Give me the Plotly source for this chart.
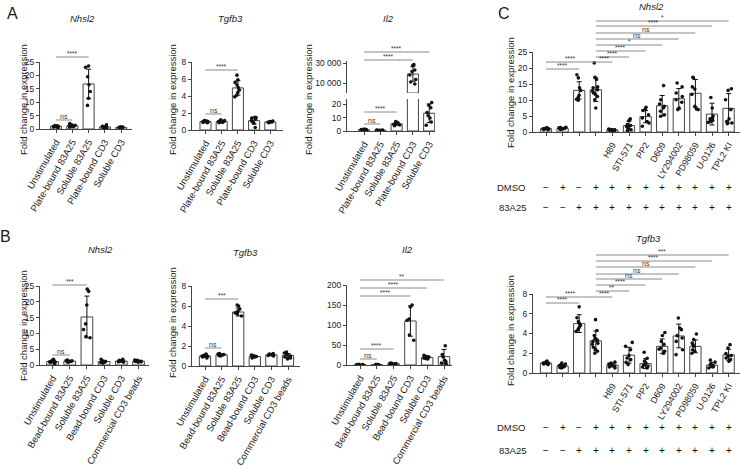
import plotly.graph_objects as go

W, H = 740, 466
FONT = "Arial, Liberation Sans, sans-serif"
AX = "#444444"
TXT = "#1a1a1a"
SIG = "#8a8a8a"

# ---------------- data ----------------
A_cats = ["Unstimulated", "Plate-bound 83A25", "Soluble 83A25", "Plate-bound CD3", "Soluble CD3"]
B_cats = ["Unstimulated", "Bead-bound 83A25", "Soluble 83A25", "Bead-bound CD3", "Soluble CD3",
          "Commercial CD3 beads"]
C_cats = ["", "", "", "", "H89", "STI-571", "PP2", "D609", "LY294002", "PD98059", "U-0126", "TPL2 KI"]
C_dmso = ["−", "+", "−", "+", "+", "+", "+", "+", "+", "+", "+", "+"]
C_83a25 = ["−", "−", "+", "+", "+", "+", "+", "+", "+", "+", "+", "+"]

A_nhsl2_mean = [1.0, 1.2, 16.8, 0.8, 0.6]
A_nhsl2_sd = [0.2, 0.4, 5.5, 0.35, 0.15]
A_nhsl2_pts = [[0.6, 0.8, 0.9, 1.0, 1.1, 1.2, 1.3, 0.9, 1.0],
               [0.7, 1.0, 1.2, 1.4, 1.6, 2.0, 1.1, 0.9, 1.3],
               [23.5, 23.0, 19.5, 16.5, 14.0, 11.5, 8.8],
               [1.6, 1.0, 0.8, 0.6, 0.5, 0.7, 0.9, 0.4],
               [0.5, 0.6, 0.7, 0.4, 0.8]]

A_tgfb3_mean = [1.0, 1.0, 4.95, 1.1, 0.95]
A_tgfb3_sd = [0.08, 0.1, 0.85, 0.4, 0.08]
A_tgfb3_pts = [[0.85, 0.9, 0.95, 1.0, 1.0, 1.05, 1.1, 0.95, 1.0],
               [0.85, 0.9, 1.0, 1.05, 1.1, 1.2, 0.95, 1.0],
               [6.45, 5.9, 5.6, 5.3, 5.0, 4.7, 4.4, 4.1, 3.9],
               [1.5, 1.45, 1.4, 1.3, 1.0, 0.8, 0.3, 1.1],
               [0.9, 0.95, 1.0, 0.85, 1.05]]

A_il2_mean = [1.0, 0.6, 5.4, 19000, 13.3]
A_il2_sd = [0.3, 0.15, 0.9, 7300, 7.0]
A_il2_pts = [[0.6, 0.8, 1.0, 1.1, 1.2, 0.9, 1.3, 1.0],
             [0.4, 0.5, 0.6, 0.7, 0.8, 0.5],
             [4.0, 4.5, 5.0, 5.5, 6.0, 7.0, 5.2, 4.8, 6.5],
             [28500, 27500, 23000, 21500, 18000, 13500, 11000, 9000],
             [21.4, 19.3, 17.4, 13.8, 11.4, 9.8, 6.7, 4.3]]

B_nhsl2_mean = [1.1, 1.2, 15.2, 1.1, 1.25, 1.2]
B_nhsl2_sd = [0.4, 0.25, 6.6, 0.35, 0.3, 0.25]
B_nhsl2_pts = [[0.5, 0.8, 1.0, 1.2, 1.5, 1.8, 0.9, 1.1],
               [0.9, 1.0, 1.2, 1.4, 1.6, 1.3, 1.1],
               [24.0, 23.3, 19.0, 13.0, 11.2, 9.0, 8.6],
               [0.6, 0.9, 1.1, 1.3, 1.8, 1.0, 0.8, 1.2],
               [1.0, 1.2, 1.5, 1.8, 1.1, 1.3, 0.9],
               [0.9, 1.1, 1.3, 1.5, 1.6, 1.2, 1.0]]

B_tgfb3_mean = [1.0, 1.12, 5.4, 0.95, 1.12, 1.05]
B_tgfb3_sd = [0.12, 0.08, 0.4, 0.1, 0.08, 0.2]
B_tgfb3_pts = [[0.8, 0.9, 1.0, 1.1, 1.2, 0.95, 1.05, 1.0],
               [1.0, 1.1, 1.15, 1.2, 1.25, 1.05, 1.1],
               [6.1, 6.0, 5.7, 5.5, 5.4, 5.3, 5.2, 5.0],
               [0.8, 0.9, 0.95, 1.0, 1.05, 1.1, 0.9],
               [1.0, 1.05, 1.1, 1.15, 1.2, 1.25, 1.1],
               [0.7, 0.8, 0.9, 1.0, 1.1, 1.2, 1.3, 1.4]]

B_il2_mean = [1.0, 1.0, 3.3, 110, 19, 21]
B_il2_sd = [0.4, 0.3, 1.0, 38, 3, 18]
B_il2_pts = [[0.5, 1.0, 1.5, 0.8, 1.2],
             [0.6, 0.9, 1.1, 1.3],
             [2.0, 3.0, 4.0, 5.0, 3.5, 2.5],
             [150, 145, 115, 112, 75, 62],
             [15, 17, 18, 19, 20, 21, 22, 24, 16],
             [48, 26, 20, 12, 9, 5, 3]]

C_nhsl2_mean = [1.0, 1.1, 13.0, 13.2, 0.65, 2.0, 4.8, 8.2, 10.4, 12.1, 5.6, 7.4]
C_nhsl2_sd = [0.2, 0.25, 2.7, 3.7, 0.15, 1.4, 1.9, 3.2, 3.2, 4.3, 3.4, 4.6]
C_nhsl2_pts = [[0.7, 0.9, 1.0, 1.1, 1.2, 1.3, 0.8, 1.0],
               [0.8, 1.0, 1.2, 1.4, 1.5, 1.1, 0.9, 1.3],
               [17.9, 16.9, 13.8, 13.0, 11.5, 10.8, 10.2, 9.9],
               [21.6, 17.1, 16.4, 14.1, 13.8, 13.2, 12.7, 12.2, 11.7, 11.1, 10.1, 7.5],
               [0.4, 0.5, 0.6, 0.7, 0.8, 0.9, 0.6, 0.7],
               [4.1, 3.6, 2.3, 2.0, 1.7, 1.2, 0.7, 0.5],
               [7.7, 7.0, 6.7, 5.4, 4.4, 3.3, 2.8, 1.8],
               [14.5, 10.1, 8.75, 8.0, 7.5, 6.5, 5.4, 4.9],
               [15.3, 14.1, 12.2, 11.1, 10.1, 9.3, 7.5, 7.0],
               [17.1, 16.9, 14.1, 13.4, 11.7, 8.0, 7.2, 7.0],
               [10.8, 7.5, 5.0, 4.4, 4.1, 3.6, 3.3, 3.0],
               [13.5, 13.0, 10.1, 7.0, 4.1, 3.3, 2.8, 2.6]]

C_tgfb3_mean = [1.0, 0.7, 5.0, 3.25, 0.8, 1.8, 0.95, 2.7, 3.75, 2.7, 0.8, 1.85]
C_tgfb3_sd = [0.1, 0.15, 0.9, 1.0, 0.2, 0.8, 0.5, 0.75, 1.2, 0.65, 0.25, 0.55]
C_tgfb3_pts = [[0.85, 0.9, 0.95, 1.0, 1.05, 1.1, 1.2, 1.0],
               [0.5, 0.55, 0.6, 0.7, 0.75, 0.8, 0.9, 0.65, 1.0],
               [6.7, 5.6, 5.2, 5.0, 4.8, 4.6, 4.4, 4.2],
               [5.4, 4.3, 3.8, 3.5, 3.4, 3.3, 3.2, 3.0, 2.9, 2.6, 2.4, 2.2, 2.0],
               [0.5, 0.6, 0.7, 0.8, 0.9, 1.0, 1.1, 0.85],
               [3.1, 2.7, 2.36, 1.76, 1.52, 1.35, 1.08, 0.85],
               [2.1, 1.5, 1.2, 1.0, 0.9, 0.8, 0.6, 0.5, 0.7],
               [4.1, 3.8, 3.2, 2.9, 2.5, 2.2, 2.0, 2.4],
               [5.57, 4.56, 4.39, 3.78, 3.55, 3.2, 2.36, 1.86],
               [3.95, 3.38, 3.04, 2.7, 2.36, 2.2, 2.0, 2.9],
               [1.3, 1.1, 0.9, 0.8, 0.7, 0.6, 0.5, 0.75],
               [2.87, 2.53, 1.96, 1.76, 1.69, 1.35, 1.18, 1.52]]

# significance comparisons: (from index, to index, label)
A_nhsl2_sig = [(0, 2, "****"), (0, 1, "ns")]
A_tgfb3_sig = [(0, 2, "****"), (0, 1, "ns")]
A_il2_sig = [(0, 4, "****"), (0, 3, "****"), (0, 2, "****"), (0, 1, "ns")]
B_nhsl2_sig = [(0, 2, "***"), (0, 1, "ns")]
B_tgfb3_sig = [(0, 2, "***"), (0, 1, "ns")]
B_il2_sig = [(0, 5, "**"), (0, 4, "****"), (0, 3, "****"), (0, 2, "****"), (0, 1, "ns")]
C_nhsl2_sig = [(3, 11, "*"), (3, 10, "****"), (3, 9, "ns"), (3, 8, "ns"), (3, 7, "*"), (3, 6, "****"),
               (3, 5, "****"), (3, 4, "****"), (0, 3, "****"), (0, 2, "****")]
C_tgfb3_sig = [(3, 11, "***"), (3, 10, "****"), (3, 9, "ns"), (3, 8, "ns"), (3, 7, "ns"), (3, 6, "****"),
               (3, 5, "**"), (3, 4, "****"), (0, 3, "****"), (0, 2, "****")]

# ---------------- layout helpers ----------------
def px(p):
    return p / W


def py(p):
    return 1 - p / H


fig = go.Figure()
layout = dict(width=W, height=H, autosize=False, margin=dict(l=0, r=0, t=0, b=0, pad=0),
              paper_bgcolor="white", plot_bgcolor="rgba(0,0,0,0)", showlegend=False,
              font=dict(family=FONT, color=TXT, size=9), barmode="overlay", boxmode="overlay")
shapes = []
annotations = []


def aname(prefix, n):
    return f"{prefix}axis" if n == 1 else f"{prefix}axis{n}"


def aref(prefix, n):
    return prefix if n == 1 else f"{prefix}{n}"


def add_xaxis(n, yn, labels, g, fsize=9.5):
    layout[aname("x", n)] = dict(
        domain=[px(g["xl"]), px(g["xr"])], anchor=aref("y", yn),
        range=[(g["xl"] - g["c0"]) / g["s"], (g["xr"] - g["c0"]) / g["s"]],
        tickmode="array", tickvals=list(range(len(labels))), ticktext=labels,
        tickangle=-60, tickfont=dict(size=fsize, color=TXT), ticks="outside", ticklen=3,
        tickcolor=AX, showline=True, linecolor=AX, linewidth=1, showgrid=False, zeroline=False,
        ticklabeloverflow="allow", automargin=False, fixedrange=True)


def add_yaxis(n, xn, yb, yt, yrange, tickvals, ticktext=None):
    d = dict(domain=[py(yb), py(yt)], anchor=aref("x", xn), range=yrange,
             tickmode="array", tickvals=tickvals, tickfont=dict(size=8.5, color=TXT),
             ticks="outside", ticklen=3, tickcolor=AX, showline=True, linecolor=AX, linewidth=1,
             showgrid=False, zeroline=False, ticklabeloverflow="allow", automargin=False,
             showticklabels=True, fixedrange=True)
    if ticktext is not None:
        d["ticktext"] = ticktext
    layout[aname("y", n)] = d


def add_data(xn, yn, means, sds, pts):
    idx = list(range(len(means)))
    fig.add_trace(go.Bar(
        x=idx, y=means, width=0.68, xaxis=aref("x", xn), yaxis=aref("y", yn),
        marker=dict(color="white", line=dict(color=AX, width=1)),
        error_y=dict(type="data", array=sds, visible=True, color="#111", thickness=1, width=2.5)))
    xs = [i for i, grp in zip(idx, pts) for _ in grp]
    ys = [v for grp in pts for v in grp]
    fig.add_trace(go.Box(
        x=xs, y=ys, xaxis=aref("x", xn), yaxis=aref("y", yn), boxpoints="all", jitter=0.75,
        pointpos=0, width=0.6, fillcolor="rgba(0,0,0,0)", line=dict(color="rgba(0,0,0,0)", width=0),
        marker=dict(color="#111", size=3.6), hoveron="points"))


def add_sig(xn, sig, ylines):
    for (i, j, lab), yl in zip(sig, ylines):
        shapes.append(dict(type="line", xref=aref("x", xn), yref="paper", x0=i, x1=j,
                           y0=py(yl), y1=py(yl), line=dict(color=SIG, width=1)))
        star = lab.startswith("*")
        annotations.append(dict(xref=aref("x", xn), yref="paper", x=(i + j) / 2,
                                y=py(yl + (1.3 if star else 0.6)), yanchor="bottom",
                                text=lab, showarrow=False, borderpad=0,
                                font=dict(size=6.5 if star else 7, color="#333333")))


def text(x, y, s, size=9.5, angle=0, italic=False, xanchor="center"):
    annotations.append(dict(xref="paper", yref="paper", x=px(x), y=py(y),
                            text=f"<i>{s}</i>" if italic else s, showarrow=False,
                            textangle=angle, xanchor=xanchor, yanchor="middle", borderpad=0,
                            font=dict(size=size, color=TXT)))


# ---------------- Panel A ----------------
gA1 = dict(xl=40, c0=56, s=16.3, xr=132)
add_xaxis(1, 1, A_cats, gA1)
add_yaxis(1, 1, 129, 62, [0, 25], [0, 5, 10, 15, 20, 25])
add_data(1, 1, A_nhsl2_mean, A_nhsl2_sd, A_nhsl2_pts)
add_sig(1, A_nhsl2_sig, [57, 120])

gA2 = dict(xl=192, c0=205.5, s=16.2, xr=283)
add_xaxis(2, 2, A_cats, gA2)
add_yaxis(2, 2, 130, 62, [0, 8], [0, 2, 4, 6, 8])
add_data(2, 2, A_tgfb3_mean, A_tgfb3_sd, A_tgfb3_pts)
add_sig(2, A_tgfb3_sig, [70, 114])

# Il2 with broken y axis: lower (y3) and upper (y4) segments share x3
LOW_TOP = 24
gA3 = dict(xl=347, c0=364, s=16.3, xr=435)
add_xaxis(3, 3, A_cats, gA3)
add_yaxis(3, 3, 131, 99, [0, LOW_TOP], [0, 10, 20])
add_yaxis(4, 3, 93, 61, [0, 32000], [10000, 30000], ["10 000", "30 000"])
add_data(3, 3, A_il2_mean, A_il2_sd, A_il2_pts)
up_mean = [m if m > LOW_TOP else None for m in A_il2_mean]
up_sd = [s if m > LOW_TOP else 0 for m, s in zip(A_il2_mean, A_il2_sd)]
up_pts = [[v for v in grp if v > LOW_TOP] for grp in A_il2_pts]
add_data(3, 4, up_mean, up_sd, up_pts)
add_sig(3, A_il2_sig, [52, 60, 112, 124])

# ---------------- Panel B ----------------
gB1 = dict(xl=40, c0=52.5, s=17.2, xr=149)
add_xaxis(4, 5, B_cats, gB1)
add_yaxis(5, 4, 365, 286, [0, 25], [0, 5, 10, 15, 20, 25])
add_data(4, 5, B_nhsl2_mean, B_nhsl2_sd, B_nhsl2_pts)
add_sig(4, B_nhsl2_sig, [285, 355])

gB2 = dict(xl=192, c0=205, s=16.6, xr=300)
add_xaxis(5, 6, B_cats, gB2)
add_yaxis(6, 5, 366, 286, [0, 8], [0, 2, 4, 6, 8])
add_data(5, 6, B_tgfb3_mean, B_tgfb3_sd, B_tgfb3_pts)
add_sig(5, B_tgfb3_sig, [299, 348])

gB3 = dict(xl=347, c0=360, s=16.8, xr=452)
add_xaxis(6, 7, B_cats, gB3)
add_yaxis(7, 6, 365, 285, [0, 200], [0, 50, 100, 150, 200])
add_data(6, 7, B_il2_mean, B_il2_sd, B_il2_pts)
add_sig(6, B_il2_sig, [280, 288, 296, 349, 359])

# ---------------- Panel C ----------------
gC = dict(xl=533, c0=546, s=16.6, xr=740)
add_xaxis(7, 8, C_cats, gC, fsize=9)
add_yaxis(8, 7, 132, 52, [0, 25], [0, 5, 10, 15, 20, 25])
add_data(7, 8, C_nhsl2_mean, C_nhsl2_sd, C_nhsl2_pts)
add_sig(7, C_nhsl2_sig, [21, 26, 33, 39, 45, 51, 57, 62, 62, 69])

add_xaxis(8, 9, C_cats, gC, fsize=9)
add_yaxis(9, 8, 373, 294, [0, 8], [0, 2, 4, 6, 8])
add_data(8, 9, C_tgfb3_mean, C_tgfb3_sd, C_tgfb3_pts)
add_sig(8, C_tgfb3_sig, [255, 261, 267, 274, 279, 285, 291, 297, 297, 303])

for xn, yd, ya in [(7, 187, 207), (8, 427, 450)]:
    for i, (d, a) in enumerate(zip(C_dmso, C_83a25)):
        for s, yy in [(d, yd), (a, ya)]:
            annotations.append(dict(xref=aref("x", xn), yref="paper", x=i, y=py(yy), text=s,
                                    showarrow=False, yanchor="middle",
                                    font=dict(size=10, color="#111111")))
    text(527, yd, "DMSO", xanchor="right")
    text(527, ya, "83A25", xanchor="right")

# ---------------- titles, letters, axis titles ----------------
text(12, 13, "A", size=16)
text(5, 237, "B", size=16)
text(504, 13, "C", size=16)

text(82, 18, "Nhsl2", italic=True)
text(230, 18, "Tgfb3", italic=True)
text(388, 18, "Il2", italic=True)
text(100, 250, "Nhsl2", italic=True)
text(245, 252, "Tgfb3", italic=True)
text(407, 250, "Il2", italic=True)
text(651, 6, "Nhsl2", italic=True)
text(648, 238, "Tgfb3", italic=True)

YT = "Fold change in expression"
for x, y in [(23, 100), (172, 100), (308, 100), (23, 326), (172, 323), (510, 92), (510, 330)]:
    text(x, y, YT, angle=-90)

layout["shapes"] = shapes
layout["annotations"] = annotations
fig.update_layout(**layout)
fig.write_html("out.html", config={"displayModeBar": False},
               post_script="document.body.style.margin='0px';document.body.style.overflow='hidden';")
